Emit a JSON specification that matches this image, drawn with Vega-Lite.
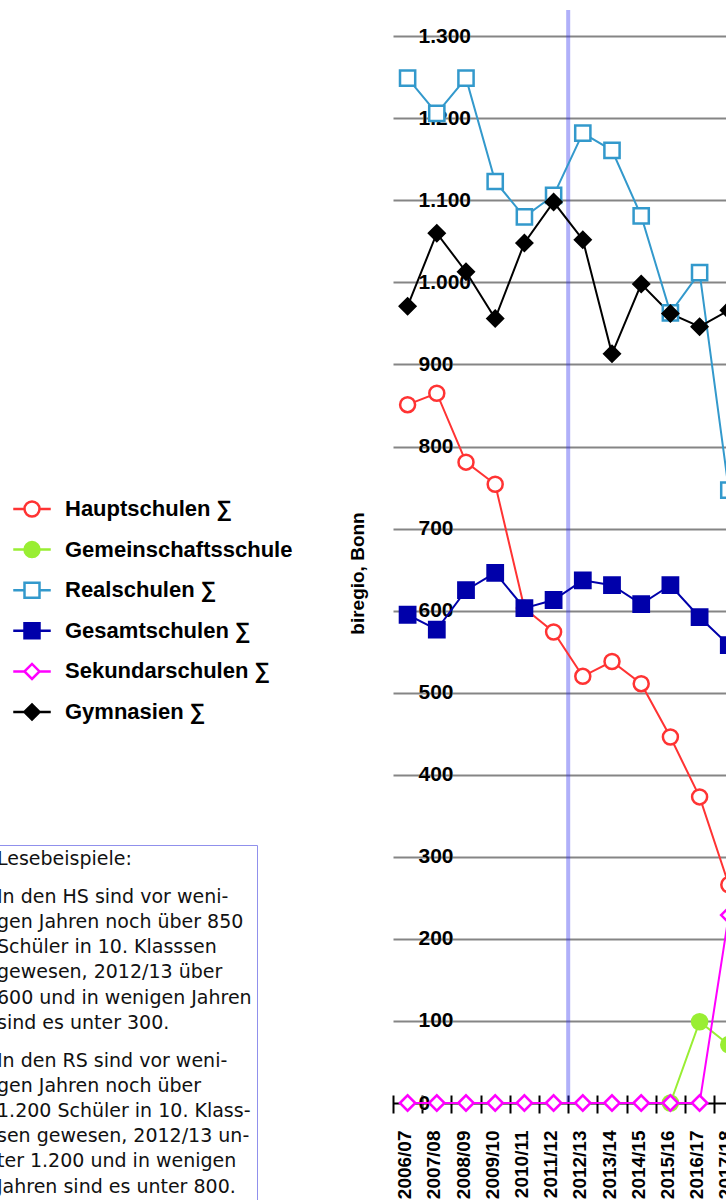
{
  "$schema": "https://vega.github.io/schema/vega-lite/v6.json",
  "autosize": {"type": "none"},
  "width": 333,
  "height": 1093,
  "padding": {"left": 393, "top": 10, "right": 0, "bottom": 97},
  "background": "white",
  "config": {"view": {"stroke": null}, "font": "Liberation Sans"},
  "datasets": {
    "schueler": [
      {"Jahr": "2006/07", "Schulform": "Hauptschulen ∑", "Anzahl": 851},
      {"Jahr": "2007/08", "Schulform": "Hauptschulen ∑", "Anzahl": 865},
      {"Jahr": "2008/09", "Schulform": "Hauptschulen ∑", "Anzahl": 781},
      {"Jahr": "2009/10", "Schulform": "Hauptschulen ∑", "Anzahl": 754},
      {"Jahr": "2010/11", "Schulform": "Hauptschulen ∑", "Anzahl": 603},
      {"Jahr": "2011/12", "Schulform": "Hauptschulen ∑", "Anzahl": 574},
      {"Jahr": "2012/13", "Schulform": "Hauptschulen ∑", "Anzahl": 520},
      {"Jahr": "2013/14", "Schulform": "Hauptschulen ∑", "Anzahl": 538},
      {"Jahr": "2014/15", "Schulform": "Hauptschulen ∑", "Anzahl": 511},
      {"Jahr": "2015/16", "Schulform": "Hauptschulen ∑", "Anzahl": 446},
      {"Jahr": "2016/17", "Schulform": "Hauptschulen ∑", "Anzahl": 373},
      {"Jahr": "2017/18", "Schulform": "Hauptschulen ∑", "Anzahl": 266},
      {"Jahr": "2006/07", "Schulform": "Realschulen ∑", "Anzahl": 1249},
      {"Jahr": "2007/08", "Schulform": "Realschulen ∑", "Anzahl": 1206},
      {"Jahr": "2008/09", "Schulform": "Realschulen ∑", "Anzahl": 1249},
      {"Jahr": "2009/10", "Schulform": "Realschulen ∑", "Anzahl": 1123},
      {"Jahr": "2010/11", "Schulform": "Realschulen ∑", "Anzahl": 1080},
      {"Jahr": "2011/12", "Schulform": "Realschulen ∑", "Anzahl": 1106},
      {"Jahr": "2012/13", "Schulform": "Realschulen ∑", "Anzahl": 1182},
      {"Jahr": "2013/14", "Schulform": "Realschulen ∑", "Anzahl": 1161},
      {"Jahr": "2014/15", "Schulform": "Realschulen ∑", "Anzahl": 1081},
      {"Jahr": "2015/16", "Schulform": "Realschulen ∑", "Anzahl": 963},
      {"Jahr": "2016/17", "Schulform": "Realschulen ∑", "Anzahl": 1012},
      {"Jahr": "2017/18", "Schulform": "Realschulen ∑", "Anzahl": 747},
      {"Jahr": "2015/16", "Schulform": "Gemeinschaftsschule", "Anzahl": 0},
      {"Jahr": "2016/17", "Schulform": "Gemeinschaftsschule", "Anzahl": 99},
      {"Jahr": "2017/18", "Schulform": "Gemeinschaftsschule", "Anzahl": 71},
      {"Jahr": "2006/07", "Schulform": "Sekundarschulen ∑", "Anzahl": 0},
      {"Jahr": "2007/08", "Schulform": "Sekundarschulen ∑", "Anzahl": 0},
      {"Jahr": "2008/09", "Schulform": "Sekundarschulen ∑", "Anzahl": 0},
      {"Jahr": "2009/10", "Schulform": "Sekundarschulen ∑", "Anzahl": 0},
      {"Jahr": "2010/11", "Schulform": "Sekundarschulen ∑", "Anzahl": 0},
      {"Jahr": "2011/12", "Schulform": "Sekundarschulen ∑", "Anzahl": 0},
      {"Jahr": "2012/13", "Schulform": "Sekundarschulen ∑", "Anzahl": 0},
      {"Jahr": "2013/14", "Schulform": "Sekundarschulen ∑", "Anzahl": 0},
      {"Jahr": "2014/15", "Schulform": "Sekundarschulen ∑", "Anzahl": 0},
      {"Jahr": "2015/16", "Schulform": "Sekundarschulen ∑", "Anzahl": 0},
      {"Jahr": "2016/17", "Schulform": "Sekundarschulen ∑", "Anzahl": 0},
      {"Jahr": "2017/18", "Schulform": "Sekundarschulen ∑", "Anzahl": 229},
      {"Jahr": "2006/07", "Schulform": "Gesamtschulen ∑", "Anzahl": 595},
      {"Jahr": "2007/08", "Schulform": "Gesamtschulen ∑", "Anzahl": 577},
      {"Jahr": "2008/09", "Schulform": "Gesamtschulen ∑", "Anzahl": 625},
      {"Jahr": "2009/10", "Schulform": "Gesamtschulen ∑", "Anzahl": 646},
      {"Jahr": "2010/11", "Schulform": "Gesamtschulen ∑", "Anzahl": 603},
      {"Jahr": "2011/12", "Schulform": "Gesamtschulen ∑", "Anzahl": 613},
      {"Jahr": "2012/13", "Schulform": "Gesamtschulen ∑", "Anzahl": 637},
      {"Jahr": "2013/14", "Schulform": "Gesamtschulen ∑", "Anzahl": 631},
      {"Jahr": "2014/15", "Schulform": "Gesamtschulen ∑", "Anzahl": 608},
      {"Jahr": "2015/16", "Schulform": "Gesamtschulen ∑", "Anzahl": 631},
      {"Jahr": "2016/17", "Schulform": "Gesamtschulen ∑", "Anzahl": 592},
      {"Jahr": "2017/18", "Schulform": "Gesamtschulen ∑", "Anzahl": 558},
      {"Jahr": "2006/07", "Schulform": "Gymnasien ∑", "Anzahl": 971},
      {"Jahr": "2007/08", "Schulform": "Gymnasien ∑", "Anzahl": 1060},
      {"Jahr": "2008/09", "Schulform": "Gymnasien ∑", "Anzahl": 1013},
      {"Jahr": "2009/10", "Schulform": "Gymnasien ∑", "Anzahl": 956},
      {"Jahr": "2010/11", "Schulform": "Gymnasien ∑", "Anzahl": 1048},
      {"Jahr": "2011/12", "Schulform": "Gymnasien ∑", "Anzahl": 1098},
      {"Jahr": "2012/13", "Schulform": "Gymnasien ∑", "Anzahl": 1052},
      {"Jahr": "2013/14", "Schulform": "Gymnasien ∑", "Anzahl": 913},
      {"Jahr": "2014/15", "Schulform": "Gymnasien ∑", "Anzahl": 998},
      {"Jahr": "2015/16", "Schulform": "Gymnasien ∑", "Anzahl": 962},
      {"Jahr": "2016/17", "Schulform": "Gymnasien ∑", "Anzahl": 946},
      {"Jahr": "2017/18", "Schulform": "Gymnasien ∑", "Anzahl": 966}
    ]
  },
  "resolve": {
    "axis": {"y": "independent"},
    "scale": {"color": "independent", "fill": "independent", "shape": "independent"}
  },
  "layer": [
    {
      "data": {"values": [{"Jahr": "2012/13"}]},
      "mark": {"type": "rule", "color": "#2f2fef", "opacity": 0.38, "strokeWidth": 4},
      "encoding": {
        "x": {"field": "Jahr", "type": "nominal", "bandPosition": 0},
        "strokeDash": {
          "field": "Jahr", "type": "nominal",
          "scale": {"range": [[1, 0]]},
          "legend": {
            "orient": "none", "legendX": -401, "legendY": 835,
            "title": ["Lesebeispiele:", "\u200b", "\u200b", "In den HS sind vor weni-", "\u200b", "gen Jahren noch über 850", "\u200b", "Schüler in 10. Klasssen", "\u200b", "gewesen, 2012/13 über", "\u200b", "600 und in wenigen Jahren", "\u200b", "sind es unter 300.", "\u200b", "\u200b", "In den RS sind vor weni-", "\u200b", "gen Jahren noch über", "\u200b", "1.200 Schüler in 10. Klass-", "\u200b", "sen gewesen, 2012/13 un-", "\u200b", "ter 1.200 und in wenigen", "\u200b", "Jahren sind es unter 800."],
            "titleFont": "DejaVu Sans", "titleFontSize": 19, "titleFontWeight": "normal", "titleColor": "#111111",
            "titleLineHeight": 12.6, "titleLimit": 2000, "titleAlign": "left", "titleBaseline": "top", "titlePadding": 8,
            "strokeColor": "#9090ec", "padding": 5,
            "symbolOpacity": 0, "labelOpacity": 0
          }
        }
      }
    },
    {
      "data": {"name": "schueler"},
      "mark": {"type": "line", "strokeWidth": 2},
      "encoding": {
        "x": {
          "field": "Jahr", "type": "nominal",
          "scale": {"domain": ["2006/07", "2007/08", "2008/09", "2009/10", "2010/11", "2011/12", "2012/13", "2013/14", "2014/15", "2015/16", "2016/17", "2017/18"], "range": [0, 350.4], "paddingInner": 0, "paddingOuter": 0},
          "axis": {
            "title": null, "domain": false, "offset": -8, "tickBand": "extent", "tickSize": 18, "tickColor": "black", "tickWidth": 2,
            "labelAngle": 270, "labelFont": "Liberation Sans", "labelFontSize": 19, "labelFontWeight": "bold", "labelColor": "black",
            "labelPadding": 17, "labelOffset": -3, "labelOverlap": false, "labelBound": false
          }
        },
        "y": {
          "field": "Anzahl", "type": "quantitative",
          "scale": {"domain": [0, 1332], "nice": false},
          "axis": {
            "orient": "left",
            "values": [0, 100, 200, 300, 400, 500, 600, 700, 800, 900, 1000, 1100, 1200, 1300],
            "grid": true, "gridWidth": 2,
            "gridColor": {"condition": {"test": "datum.value === 0", "value": "#000000"}, "value": "#858585"},
            "domain": false, "ticks": false, "tickSize": 0,
            "labelAlign": "left", "labelBaseline": "middle", "labelPadding": -25, "labelFlush": false,
            "labelFont": "Liberation Sans", "labelFontSize": 21, "labelFontWeight": "bold", "labelColor": "white",
            "labelExpr": "replace(format(datum.value, ','), ',', '.')",
            "encode": {"labels": {"update": {"stroke": {"value": "white"}, "strokeWidth": {"value": 5}}}},
            "title": "biregio, Bonn", "titleFont": "Liberation Sans", "titleFontSize": 19, "titleFontWeight": "bold", "titleColor": "black",
            "titleAngle": 270, "titleAlign": "center", "titleBaseline": "middle", "titleX": -36, "titleY": 563
          }
        },
        "color": {
          "field": "Schulform", "type": "nominal",
          "scale": {"domain": ["Hauptschulen ∑", "Gemeinschaftsschule", "Realschulen ∑", "Gesamtschulen ∑", "Sekundarschulen ∑", "Gymnasien ∑"], "range": ["#ff3333", "#99ee33", "#3399cc", "#0000aa", "#ff00ff", "#000000"]},
          "legend": null
        }
      }
    },
    {
      "data": {"name": "schueler"},
      "mark": {"type": "point", "filled": false, "strokeWidth": 2.5, "opacity": 1},
      "encoding": {
        "x": {"field": "Jahr", "type": "nominal"},
        "y": {
          "field": "Anzahl", "type": "quantitative",
          "axis": {
            "orient": "left",
            "values": [0, 100, 200, 300, 400, 500, 600, 700, 800, 900, 1000, 1100, 1200, 1300],
            "grid": false, "domain": false, "ticks": false, "tickSize": 0,
            "labelAlign": "left", "labelBaseline": "middle", "labelPadding": -25, "labelFlush": false,
            "labelFont": "Liberation Sans", "labelFontSize": 21, "labelFontWeight": "bold", "labelColor": "black",
            "labelExpr": "replace(format(datum.value, ','), ',', '.')",
            "title": null
          }
        },
        "color": {
          "field": "Schulform", "type": "nominal",
          "scale": {"domain": ["Hauptschulen ∑", "Gemeinschaftsschule", "Realschulen ∑", "Gesamtschulen ∑", "Sekundarschulen ∑", "Gymnasien ∑"], "range": ["#ff3333", "#99ee33", "#3399cc", "#0000aa", "#ff00ff", "#000000"]},
          "legend": null
        },
        "fill": {
          "field": "Schulform", "type": "nominal",
          "scale": {"domain": ["Hauptschulen ∑", "Gemeinschaftsschule", "Realschulen ∑", "Gesamtschulen ∑", "Sekundarschulen ∑", "Gymnasien ∑"], "range": ["#ffffff", "#99ee33", "#ffffff", "#0000aa", "#ffffff", "#000000"]},
          "legend": null
        },
        "shape": {
          "field": "Schulform", "type": "nominal",
          "scale": {"domain": ["Hauptschulen ∑", "Gemeinschaftsschule", "Realschulen ∑", "Gesamtschulen ∑", "Sekundarschulen ∑", "Gymnasien ∑"], "range": ["circle", "circle", "square", "square", "diamond", "diamond"]},
          "legend": null
        },
        "size": {
          "field": "Schulform", "type": "nominal",
          "scale": {"domain": ["Hauptschulen ∑", "Gemeinschaftsschule", "Realschulen ∑", "Gesamtschulen ∑", "Sekundarschulen ∑", "Gymnasien ∑"], "range": [225, 240, 225, 289, 190, 300]},
          "legend": null
        }
      }
    },
    {
      "data": {"name": "schueler"},
      "transform": [{"filter": "false"}],
      "mark": {"type": "point", "filled": false, "strokeWidth": 2.5, "size": 225, "opacity": 1},
      "encoding": {
        "x": {"field": "Jahr", "type": "nominal"},
        "y": {"field": "Anzahl", "type": "quantitative", "axis": null},
        "color": {
          "field": "Schulform", "type": "nominal",
          "scale": {"domain": ["Hauptschulen ∑", "Gemeinschaftsschule", "Realschulen ∑", "Gesamtschulen ∑", "Sekundarschulen ∑", "Gymnasien ∑"], "range": ["#ff3333", "#99ee33", "#3399cc", "#0000aa", "#ff00ff", "#000000"]},
          "legend": {
            "orient": "none", "legendX": -372, "legendY": 488, "title": null, "padding": 0, "rowPadding": 14.6,
            "labelFont": "Liberation Sans", "labelFontSize": 22, "labelFontWeight": "bold", "labelColor": "black", "labelOffset": 22, "labelLimit": 600,
            "symbolStrokeWidth": 2.5, "symbolSize": 225
          }
        },
        "fill": {
          "field": "Schulform", "type": "nominal",
          "scale": {"domain": ["Hauptschulen ∑", "Gemeinschaftsschule", "Realschulen ∑", "Gesamtschulen ∑", "Sekundarschulen ∑", "Gymnasien ∑"], "range": ["#ffffff", "#99ee33", "#ffffff", "#0000aa", "#ffffff", "#000000"]},
          "legend": {
            "orient": "none", "legendX": -372, "legendY": 488, "title": null, "padding": 0, "rowPadding": 14.6,
            "labelFont": "Liberation Sans", "labelFontSize": 22, "labelFontWeight": "bold", "labelColor": "black", "labelOffset": 22, "labelLimit": 600,
            "symbolStrokeWidth": 2.5, "symbolSize": 225
          }
        },
        "shape": {
          "field": "Schulform", "type": "nominal",
          "scale": {"domain": ["Hauptschulen ∑", "Gemeinschaftsschule", "Realschulen ∑", "Gesamtschulen ∑", "Sekundarschulen ∑", "Gymnasien ∑"], "range": [
            "M-2.5,0H-1M1,0H2.5M1,0A1,1,0,1,1,-1,0A1,1,0,1,1,1,0Z",
            "M-2.5,0H-1M1,0H2.5M1,0A1,1,0,1,1,-1,0A1,1,0,1,1,1,0Z",
            "M-2.5,0H-1M1,0H2.5M-1,-1H1V1H-1Z",
            "M-2.5,0H-1M1,0H2.5M-1,-1H1V1H-1Z",
            "M-2.5,0H-1M1,0H2.5M-1,0L0,-1L1,0L0,1Z",
            "M-2.5,0H-1M1,0H2.5M-1,0L0,-1L1,0L0,1Z"
          ]},
          "legend": {
            "orient": "none", "legendX": -372, "legendY": 488, "title": null, "padding": 0, "rowPadding": 14.6,
            "labelFont": "Liberation Sans", "labelFontSize": 22, "labelFontWeight": "bold", "labelColor": "black", "labelOffset": 22, "labelLimit": 600,
            "symbolStrokeWidth": 2.5, "symbolSize": 225
          }
        }
      }
    }
  ]
}
